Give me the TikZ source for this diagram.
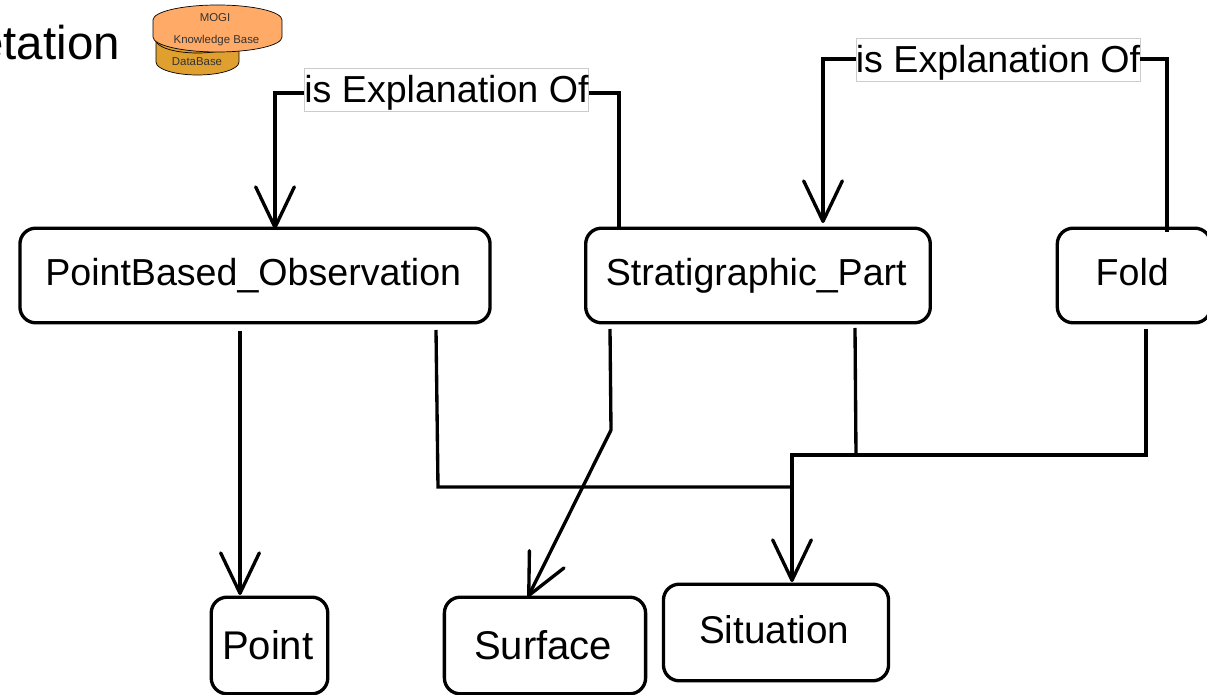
\documentclass[tikz,border=0pt]{standalone}
\usepackage{fontspec}
\setmainfont{Liberation Sans}
\usetikzlibrary{arrows.meta,positioning,calc}
\definecolor{kbOrange}{HTML}{FFAA66}
\definecolor{dbOrange}{HTML}{E0A030}
\newcommand \explabel {\raisebox{-1.7pt}[\height][\depth]{is Explanation Of}}
\tikzset{
  box/.style={draw,line width=1.9pt,rounded corners=9pt,inner sep=0pt,font=\fontsize{21.4}{25}\selectfont,execute at begin node={\hspace*{-2pt}}},
  bigbox/.style={box,font=\fontsize{22.8}{27}\selectfont},
  relbox/.style={draw=black!20,line width=0.4pt,fill=white,inner sep=0pt,minimum width=161.5pt,minimum height=24.5pt,font=\fontsize{21.4}{25}\selectfont},
  link/.style={line width=1.9pt,line join=miter},
  linkto/.style={link,-{Straight Barb[length=23pt,width=22pt,line width=1.9pt,round=false]}},
  dbtext/.style={font=\fontsize{6.5}{8}\selectfont,inner sep=0pt,text=black!80}
}
\begin{document}
\begin{tikzpicture}[x=0.02cm,y=-0.02cm]
\useasboundingbox (0,0) rectangle (1207,695);
\clip (0,0) rectangle (1207,695);
% title and cylinders
\node[anchor=base west,inner sep=0pt,font=\fontsize{27}{32}\selectfont] (title) at (-23,60) {etation};
\draw[fill=dbOrange,line width=0.4pt] (156,40) -- (156,62) arc[start angle=180,end angle=0,x radius=41.5,y radius=13] -- (239,40) arc[start angle=0,end angle=-180,x radius=41.5,y radius=13] -- cycle;
\draw[line width=0.4pt] (156,40) arc[start angle=180,end angle=0,x radius=41.5,y radius=13];
\draw[fill=kbOrange,line width=0.4pt] (153,20) -- (153,37) arc[start angle=180,end angle=0,x radius=64.5,y radius=15] -- (282,20) arc[start angle=0,end angle=-180,x radius=64.5,y radius=15] -- cycle;
\node[dbtext] (mogi) at (215,18) {MOGI};
\node[dbtext] (kb) at (216.5,41) {Knowledge Base};
\node[dbtext] (db) at (197,62) {DataBase};
% boxes
\node[box,minimum width=472*0.5669pt,minimum height=95*0.5669pt] (pbo) at (255,275.5) {PointBased\_Observation};
\node[box,minimum width=346*0.5669pt,minimum height=95*0.5669pt] (strat) at (758,275.5) {Stratigraphic\_Part};
\node[box,minimum width=154*0.5669pt,minimum height=95*0.5669pt] (fold) at (1134,275.5) {\raisebox{2pt}[\height][\depth]{Fold}};
\node[bigbox,minimum width=117*0.5669pt,minimum height=97*0.5669pt] (point) at (269.5,645.5) {Point};
\node[bigbox,minimum width=202*0.5669pt,minimum height=97*0.5669pt] (surface) at (545,645.5) {Surface};
\node[box,font=\fontsize{22}{26}\selectfont,minimum width=226*0.5669pt,minimum height=97*0.5669pt] (situation) at (776,632.5) {\raisebox{1.5pt}[\height][\depth]{Situation}};
\node[relbox] (exp1) at (446.5,90) {\explabel};
\node[relbox] (exp2) at (998,60) {\explabel};
% connector ends
\coordinate (s1) at (619,228);
\coordinate (f1) at (1167,232);
\coordinate (p1) at (240,331);
\coordinate (p2) at (436,330);
\coordinate (s2) at (610,329);
\coordinate (s3) at (855,328);
\coordinate (f2) at (1146,329);
\coordinate (k1) at (611,430);
\coordinate (j1) at (792,487);
\coordinate (j2) at (792,455);
\coordinate (e1) at (275,93);
\coordinate (e2) at (823,59);
\coordinate (e3) at (619,93);
% is Explanation Of
\draw[link] (s1) -- (e3) -- (e3 -| exp1.east);
\draw[linkto] (e1 -| exp1.west) -- (e1) -- (275,229);
\draw[link] (f1) -- (f1 |- e2) -- (e2 -| exp2.east);
\draw[linkto] (e2 -| exp2.west) -- (e2) -- (823,223);
% down to lower boxes
\draw[linkto] (p1) -- (240,595);
\draw[link] (p2) -- (438,487) -- (j1);
\draw[linkto] (s2) -- (k1) -- (528,597);
\draw[link] (s3) -- (856,455);
\draw[linkto] (f2) -- (f2 |- j2) -- (j2) -- (792,582);
\end{tikzpicture}
\end{document}
